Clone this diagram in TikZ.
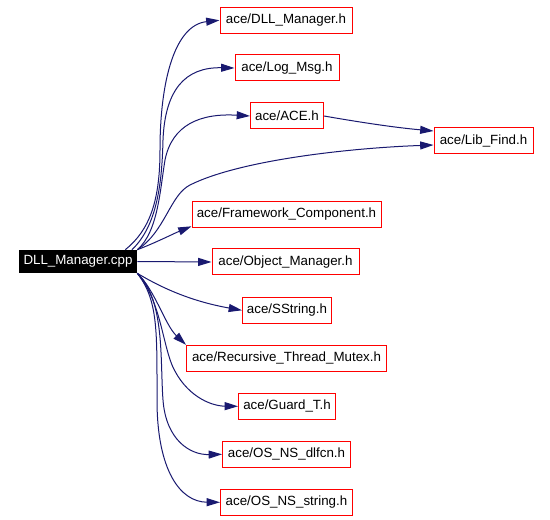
\documentclass[tikz,border=0pt]{standalone}
\usepackage{fontspec}
\setmainfont{Liberation Sans}
\usetikzlibrary{arrows.meta}
\definecolor{edgecol}{HTML}{191970}
\begin{document}
\begin{tikzpicture}[x=0.75pt,y=-0.75pt,
  file/.style={draw=red, line width=0.75pt, inner sep=0pt, minimum height=19.5pt, font=\fontsize{10}{12}\selectfont},
  src/.style={fill=black, text=white, inner sep=0pt, minimum height=17.25pt, font=\fontsize{10}{12}\selectfont},
  dep/.style={draw=edgecol, line width=0.75pt, -{Triangle[length=10pt,width=6pt]}}]
\path[use as bounding box, fill=white] (0,0) rectangle (550,520);

\node[src, minimum width=88.5pt] (cpp) at (78,261.5) {DLL\_Manager.cpp};
\node[file, minimum width=99pt] (dll) at (286,20.3) {ace/DLL\_Manager.h};
\node[file, minimum width=78pt] (log) at (287,68) {ace/Log\_Msg.h};
\node[file, minimum width=54.75pt] (ace) at (287,116) {ace/ACE.h};
\node[file, minimum width=74.25pt] (lib) at (483.5,141) {ace/Lib\_Find.h};
\node[file, minimum width=141.75pt] (fw) at (286.5,214.3) {ace/Framework\_Component.h};
\node[file, minimum width=110.25pt] (om) at (285.5,262) {ace/Object\_Manager.h};
\node[file, minimum width=66.75pt] (ss) at (287,310.3) {ace/SString.h};
\node[file, minimum width=150pt] (rtm) at (286.5,358.3) {ace/Recursive\_Thread\_Mutex.h};
\node[file, minimum width=72.75pt] (gt) at (287,406.3) {ace/Guard\_T.h};
\node[file, minimum width=96pt] (dlfcn) at (286.5,454.3) {ace/OS\_NS\_dlfcn.h};
\node[file, minimum width=99pt] (str) at (286.5,502.3) {ace/OS\_NS\_string.h};

\draw[dep] ([xshift=-9pt]cpp.north east) .. controls (150,230) and (160,200) .. (160,150) .. controls (160,80) and (175,25) .. (dll.west);
\draw[dep] ([xshift=-4pt]cpp.north east) .. controls (158,225) and (162,180) .. (163,140) .. controls (165,90) and (185,67) .. (log.west);
\draw[dep] (cpp.north east) .. controls (158,232) and (160,190) .. (165,160) .. controls (172,125) and (200,113) .. (ace.west);
\draw[dep] (ace.east) .. controls (370,124) and (400,128) .. ([yshift=7.5pt]lib.west);
\draw[dep] (cpp.north east) .. controls (165,232) and (170,195) .. (190,185) .. controls (240,160) and (350,148) .. ([yshift=-3pt]lib.west);
\draw[dep] (cpp.north east) .. controls (155,243) and (175,233) .. ([yshift=-9pt]fw.west);
\draw[dep] (cpp.east) -- (om.west);
\draw[dep] (cpp.south east) .. controls (165,290) and (195,302) .. (ss.west);
\draw[dep] (cpp.south east) .. controls (155,290) and (165,325) .. (rtm.north west);
\draw[dep] (cpp.south east) .. controls (160,300) and (162,340) .. (172,365) .. controls (185,395) and (210,406) .. (gt.west);
\draw[dep] (cpp.south east) .. controls (165,300) and (160,360) .. (163,400) .. controls (166,440) and (190,455) .. (dlfcn.west);
\draw[dep] (cpp.south east) .. controls (158,300) and (157,330) .. (157,400) .. controls (157,470) and (180,502) .. (str.west);
\end{tikzpicture}
\end{document}
